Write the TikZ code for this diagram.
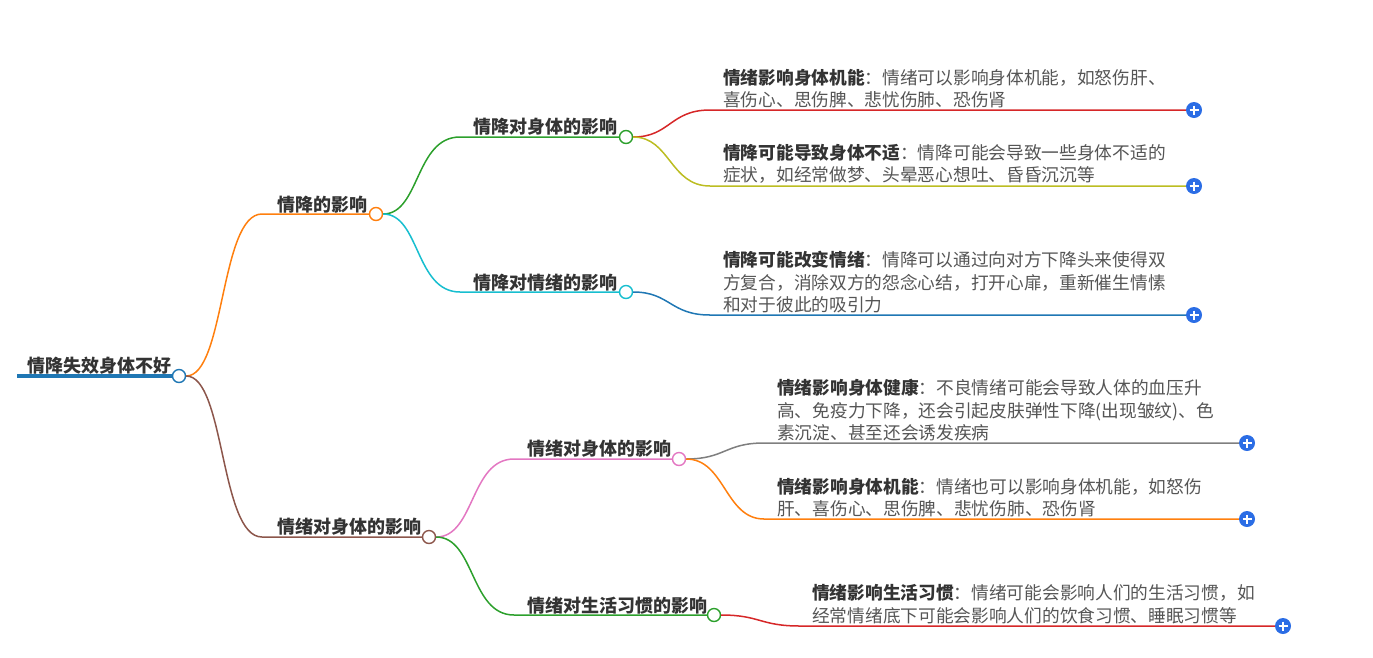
\documentclass[tikz,border=0pt]{standalone}
\usepackage{fontspec}
\usetikzlibrary{calc}
\newfontfamily\cjk{Noto Sans CJK SC}
\definecolor{cblue}{HTML}{1F77B4}\definecolor{corange}{HTML}{FF7F0E}
\definecolor{cgreen}{HTML}{2CA02C}\definecolor{cred}{HTML}{D62728}
\definecolor{cbrown}{HTML}{8C564B}\definecolor{cpink}{HTML}{E377C2}
\definecolor{cgray}{HTML}{7F7F7F}\definecolor{colive}{HTML}{BCBD22}
\definecolor{ccyan}{HTML}{17BECF}\definecolor{plusblue}{HTML}{2B6DE5}
\definecolor{txt}{HTML}{555555}\definecolor{btxt}{HTML}{333333}
\begin{document}
\begin{tikzpicture}[x=1pt,y=-1pt,
  dot/.style={circle,draw=#1,fill=white,line width=1.4pt,minimum size=13pt,inner sep=0},
  lbl/.style={font=\cjk\fontsize{18}{22}\selectfont\bfseries,text=btxt,anchor=south west,inner sep=1pt},
  leaf/.style={font=\cjk\fontsize{17.7}{22.3}\selectfont,text=txt,anchor=south west,align=left,inner sep=1pt},
  edge/.style={line width=1.5pt,draw=#1},
  plus/.style={circle,fill=plusblue,minimum size=16pt,inner sep=0}]
\useasboundingbox (0,0) rectangle (1373,657);
\newcommand{\pl}[2]{\node[plus] (#1) at #2 {}; \draw[white,line width=1.4pt] ($(#1)+(-4.5,0)$)--($(#1)+(4.5,0)$) ($(#1)+(0,-4.5)$)--($(#1)+(0,4.5)$);}
% root
\coordinate (r0) at (17,376);
\node[dot=cblue] (r) at (179,376) {};
\draw[cblue,line width=3.5pt] (r0) -- (r.west);
\node[lbl] (rt) at (26,376) {情降失效身体不好};
% level 1
\coordinate (a0) at (262,214); \node[dot=corange] (a) at (376,214) {};
\node[lbl] (at) at (276,214) {情降的影响};
\draw[edge=corange] (r.east) .. controls (225,376) and (220,214) .. (a0) -- (a.west);
\coordinate (b0) at (262,537); \node[dot=cbrown] (b) at (429,537) {};
\node[lbl] (bt) at (276,537) {情绪对身体的影响};
\draw[edge=cbrown] (r.east) .. controls (225,376) and (220,537) .. (b0) -- (b.west);
% level 2
\coordinate (c0) at (460,137); \node[dot=cgreen] (c) at (626,137) {};
\node[lbl] (ct) at (472,137) {情降对身体的影响};
\draw[edge=cgreen] (a.east) .. controls (420,214) and (415,137) .. (c0) -- (c.west);
\coordinate (d0) at (460,292); \node[dot=ccyan] (d) at (626,292) {};
\node[lbl] (dt) at (472,292) {情降对情绪的影响};
\draw[edge=ccyan] (a.east) .. controls (420,214) and (415,292) .. (d0) -- (d.west);
\coordinate (e0) at (514,459); \node[dot=cpink] (e) at (679,459) {};
\node[lbl] (et) at (526,459) {情绪对身体的影响};
\draw[edge=cpink] (b.east) .. controls (475,537) and (470,459) .. (e0) -- (e.west);
\coordinate (f0) at (514,615); \node[dot=cgreen] (f) at (714,615) {};
\node[lbl] (ft) at (526,615) {情绪对生活习惯的影响};
\draw[edge=cgreen] (b.east) .. controls (475,537) and (470,615) .. (f0) -- (f.west);
% leaves
\coordinate (l1) at (710,110); \pl{p1}{(1194,110)}
\draw[edge=cred] (c.east) .. controls (670,137) and (670,110) .. (l1) -- (p1.west);
\node[leaf] (t1) at (722,109) {\textbf{\color{btxt}情绪影响身体机能}：情绪可以影响身体机能，如怒伤肝、\\喜伤心、思伤脾、悲忧伤肺、恐伤肾};
\coordinate (l2) at (710,186); \pl{p2}{(1194,186)}
\draw[edge=colive] (c.east) .. controls (670,137) and (670,186) .. (l2) -- (p2.west);
\node[leaf] (t2) at (722,185) {\textbf{\color{btxt}情降可能导致身体不适}：情降可能会导致一些身体不适的\\症状，如经常做梦、头晕恶心想吐、昏昏沉沉等};
\coordinate (l3) at (710,315); \pl{p3}{(1194,315)}
\draw[edge=cblue] (d.east) .. controls (670,292) and (670,315) .. (l3) -- (p3.west);
\node[leaf] (t3) at (722,314) {\textbf{\color{btxt}情降可能改变情绪}：情降可以通过向对方下降头来使得双\\方复合，消除双方的怨念心结，打开心扉，重新催生情愫\\和对于彼此的吸引力};
\coordinate (l4) at (764,443); \pl{p4}{(1247,443)}
\draw[edge=cgray] (e.east) .. controls (725,459) and (725,443) .. (l4) -- (p4.west);
\node[leaf] (t4) at (776,442) {\textbf{\color{btxt}情绪影响身体健康}：不良情绪可能会导致人体的血压升\\高、免疫力下降，还会引起皮肤弹性下降(出现皱纹)、色\\素沉淀、甚至还会诱发疾病};
\coordinate (l5) at (764,519); \pl{p5}{(1247,519)}
\draw[edge=corange] (e.east) .. controls (725,459) and (725,519) .. (l5) -- (p5.west);
\node[leaf] (t5) at (776,518) {\textbf{\color{btxt}情绪影响身体机能}：情绪也可以影响身体机能，如怒伤\\肝、喜伤心、思伤脾、悲忧伤肺、恐伤肾};
\coordinate (l6) at (800,626); \pl{p6}{(1283,626)}
\draw[edge=cred] (f.east) .. controls (760,615) and (760,626) .. (l6) -- (p6.west);
\node[leaf] (t6) at (811,625) {\textbf{\color{btxt}情绪影响生活习惯}：情绪可能会影响人们的生活习惯，如\\经常情绪底下可能会影响人们的饮食习惯、睡眠习惯等};
\end{tikzpicture}
\end{document}
